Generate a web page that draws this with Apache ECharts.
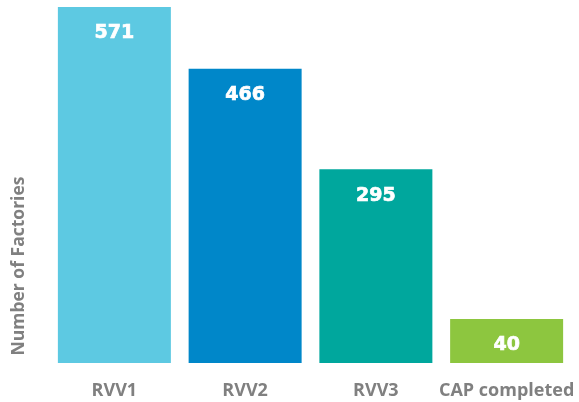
<!DOCTYPE html>
<html>
<head>
<meta charset="utf-8">
<script src="https://cdn.jsdelivr.net/npm/echarts@6/dist/echarts.min.js"></script>
<style>
  html, body { margin: 0; padding: 0; background: #fff; }
  #chart { width: 579px; height: 402px; }
</style>
</head>
<body>
<div id="chart"></div>
<script>
const categories = ['RVV1', 'RVV2', 'RVV3', 'CAP completed'];
const factories = [571, 466, 295, 40];
const barColors = ['#5DC9E2', '#0087C9', '#00A79D', '#8DC63F'];
// the original bars stand on a raised foot, they are not drawn from zero
const foot = 35;

const chart = echarts.init(document.getElementById('chart'));

const option = {
  animation: false,
  grid: { left: 49, right: 7, top: 7, bottom: 39 },
  xAxis: {
    type: 'category',
    data: categories,
    axisLine: { show: false },
    axisTick: { show: false },
    axisLabel: {
      interval: 0,
      color: '#808080',
      fontFamily: 'Open Sans',
      fontWeight: 'bold',
      fontSize: 18,
      margin: 19,
    },
  },
  yAxis: {
    type: 'value',
    min: 0,
    max: 571 + foot,
    show: false,
  },
  graphic: [
    {
      type: 'text',
      x: 19,
      y: 266,
      rotation: Math.PI / 2,
      style: {
        text: 'Number of Factories',
        fill: '#808080',
        font: 'bold 17.5px "Open Sans"',
        textAlign: 'center',
        textVerticalAlign: 'middle',
      },
    },
  ],
  series: [
    {
      type: 'bar',
      barWidth: 113,
      data: factories.map((v, i) => ({
        value: v + foot,
        itemStyle: { color: barColors[i] },
      })),
      label: {
        show: true,
        position: 'insideTop',
        distance: 17,
        color: '#fff',
        fontFamily: 'DejaVu Sans',
        fontWeight: 'bold',
        fontSize: 19,
        textBorderColor: '#fff',
        textBorderWidth: 0.7,
        formatter: (p) => factories[p.dataIndex],
      },
    },
  ],
};

chart.setOption(option);

window.addEventListener('resize', () => {
  chart.resize();
});
</script>
</body>
</html>
